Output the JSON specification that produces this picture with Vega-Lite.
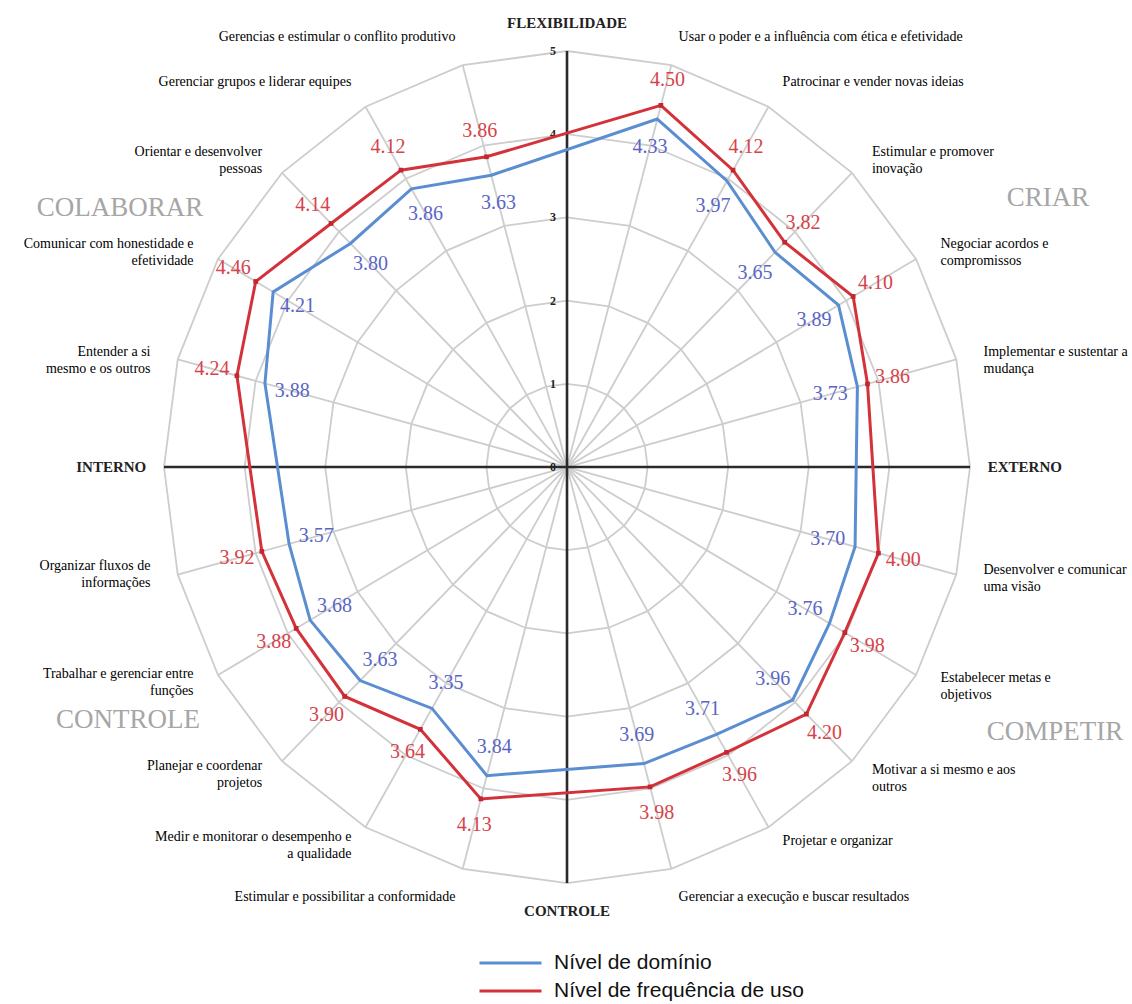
{
  "$schema": "https://vega.github.io/schema/vega-lite/v6.json",
  "width": 1132,
  "height": 1004,
  "padding": 0,
  "autosize": {"type": "none"},
  "background": "white",
  "config": {"view": {"stroke": null}},
  "datasets": {
    "comp": [
      {"k": 1, "label": "Usar o poder e a influência com ética e efetividade", "dominio": 4.33, "frequencia": 4.50},
      {"k": 2, "label": "Patrocinar e vender novas ideias", "dominio": 3.97, "frequencia": 4.12},
      {"k": 3, "label": "Estimular e promover\ninovação", "dominio": 3.65, "frequencia": 3.82},
      {"k": 4, "label": "Negociar acordos e\ncompromissos", "dominio": 3.89, "frequencia": 4.10},
      {"k": 5, "label": "Implementar e sustentar a\nmudança", "dominio": 3.73, "frequencia": 3.86},
      {"k": 7, "label": "Desenvolver e comunicar\numa visão", "dominio": 3.70, "frequencia": 4.00},
      {"k": 8, "label": "Estabelecer metas e\nobjetivos", "dominio": 3.76, "frequencia": 3.98},
      {"k": 9, "label": "Motivar a si mesmo e aos\noutros", "dominio": 3.96, "frequencia": 4.20},
      {"k": 10, "label": "Projetar e organizar", "dominio": 3.71, "frequencia": 3.96},
      {"k": 11, "label": "Gerenciar a execução e buscar resultados", "dominio": 3.69, "frequencia": 3.98},
      {"k": 13, "label": "Estimular e possibilitar a conformidade", "dominio": 3.84, "frequencia": 4.13},
      {"k": 14, "label": "Medir e monitorar o desempenho e\na qualidade", "dominio": 3.35, "frequencia": 3.64},
      {"k": 15, "label": "Planejar e coordenar\nprojetos", "dominio": 3.63, "frequencia": 3.90},
      {"k": 16, "label": "Trabalhar e gerenciar entre\nfunções", "dominio": 3.68, "frequencia": 3.88},
      {"k": 17, "label": "Organizar fluxos de\ninformações", "dominio": 3.57, "frequencia": 3.92},
      {"k": 19, "label": "Entender a si\nmesmo e os outros", "dominio": 3.88, "frequencia": 4.24},
      {"k": 20, "label": "Comunicar com honestidade e\nefetividade", "dominio": 4.21, "frequencia": 4.46},
      {"k": 21, "label": "Orientar e desenvolver\npessoas", "dominio": 3.80, "frequencia": 4.14},
      {"k": 22, "label": "Gerenciar grupos e liderar equipes", "dominio": 3.86, "frequencia": 4.12},
      {"k": 23, "label": "Gerencias e estimular o conflito produtivo", "dominio": 3.63, "frequencia": 3.86}
    ],
    "spokes": [
      {"k": 0, "r": [1, 2, 3, 4, 5]}, {"k": 1, "r": [1, 2, 3, 4, 5]}, {"k": 2, "r": [1, 2, 3, 4, 5]},
      {"k": 3, "r": [1, 2, 3, 4, 5]}, {"k": 4, "r": [1, 2, 3, 4, 5]}, {"k": 5, "r": [1, 2, 3, 4, 5]},
      {"k": 6, "r": [1, 2, 3, 4, 5]}, {"k": 7, "r": [1, 2, 3, 4, 5]}, {"k": 8, "r": [1, 2, 3, 4, 5]},
      {"k": 9, "r": [1, 2, 3, 4, 5]}, {"k": 10, "r": [1, 2, 3, 4, 5]}, {"k": 11, "r": [1, 2, 3, 4, 5]},
      {"k": 12, "r": [1, 2, 3, 4, 5]}, {"k": 13, "r": [1, 2, 3, 4, 5]}, {"k": 14, "r": [1, 2, 3, 4, 5]},
      {"k": 15, "r": [1, 2, 3, 4, 5]}, {"k": 16, "r": [1, 2, 3, 4, 5]}, {"k": 17, "r": [1, 2, 3, 4, 5]},
      {"k": 18, "r": [1, 2, 3, 4, 5]}, {"k": 19, "r": [1, 2, 3, 4, 5]}, {"k": 20, "r": [1, 2, 3, 4, 5]},
      {"k": 21, "r": [1, 2, 3, 4, 5]}, {"k": 22, "r": [1, 2, 3, 4, 5]}, {"k": 23, "r": [1, 2, 3, 4, 5]}
    ],
    "eixos": [
      {"k": 0, "nome": "FLEXIBILIDADE"},
      {"k": 6, "nome": "EXTERNO"},
      {"k": 12, "nome": "CONTROLE"},
      {"k": 18, "nome": "INTERNO"}
    ],
    "ticks": [{"t": 0}, {"t": 1}, {"t": 2}, {"t": 3}, {"t": 4}, {"t": 5}],
    "cantos": [{"nome": "COLABORAR"}, {"nome": "CRIAR"}, {"nome": "COMPETIR"}, {"nome": "CONTROLE"}]
  },
  "layer": [
    {
      "data": {"name": "spokes"},
      "transform": [
        {"flatten": ["r"]},
        {"calculate": "datum.r*sin(datum.k*PI/12)", "as": "px"},
        {"calculate": "datum.r*cos(datum.k*PI/12)", "as": "py"}
      ],
      "mark": {"type": "line", "interpolate": "linear-closed", "stroke": "#cdcdcd", "strokeWidth": 1.8},
      "encoding": {
        "x": {"field": "px", "type": "quantitative", "scale": {"domain": [-7.035, 7.010], "nice": false, "zero": false}, "axis": null},
        "y": {"field": "py", "type": "quantitative", "scale": {"domain": [-6.454, 5.613], "nice": false, "zero": false}, "axis": null},
        "detail": {"field": "r", "type": "nominal"},
        "order": {"field": "k", "type": "quantitative"}
      }
    },
    {
      "data": {"name": "spokes"},
      "transform": [
        {"calculate": "0", "as": "ox"},
        {"calculate": "5*sin(datum.k*PI/12)", "as": "ex"},
        {"calculate": "5*cos(datum.k*PI/12)", "as": "ey"}
      ],
      "mark": {"type": "rule", "stroke": "#cdcdcd", "strokeWidth": 1.8},
      "encoding": {
        "x": {"field": "ox", "type": "quantitative"},
        "y": {"field": "ox", "type": "quantitative"},
        "x2": {"field": "ex"},
        "y2": {"field": "ey"}
      }
    },
    {
      "data": {"name": "eixos"},
      "transform": [
        {"calculate": "0", "as": "ox"},
        {"calculate": "5*sin(datum.k*PI/12)", "as": "ex"},
        {"calculate": "5*cos(datum.k*PI/12)", "as": "ey"}
      ],
      "mark": {"type": "rule", "stroke": "#2a2a2a", "strokeWidth": 2.6},
      "encoding": {
        "x": {"field": "ox", "type": "quantitative"},
        "y": {"field": "ox", "type": "quantitative"},
        "x2": {"field": "ex"},
        "y2": {"field": "ey"}
      }
    },
    {
      "data": {"name": "ticks"},
      "transform": [{"calculate": "0", "as": "ox"}],
      "mark": {"type": "text", "font": "Liberation Serif", "fontWeight": "bold", "fontSize": 12, "color": "#222", "dx": -14, "align": "center", "baseline": "middle"},
      "encoding": {
        "x": {"field": "ox", "type": "quantitative"},
        "y": {"field": "t", "type": "quantitative"},
        "text": {"field": "t", "type": "quantitative"}
      }
    },
    {
      "data": {"name": "comp"},
      "transform": [
        {"fold": ["dominio", "frequencia"], "as": ["serie", "valor"]},
        {"calculate": "datum.valor*sin(datum.k*PI/12)", "as": "px"},
        {"calculate": "datum.valor*cos(datum.k*PI/12)", "as": "py"}
      ],
      "mark": {"type": "line", "interpolate": "linear-closed", "strokeWidth": 3},
      "encoding": {
        "x": {"field": "px", "type": "quantitative"},
        "y": {"field": "py", "type": "quantitative"},
        "order": {"field": "k", "type": "quantitative"},
        "color": {
          "field": "serie",
          "type": "nominal",
          "scale": {"domain": ["dominio", "frequencia"], "range": ["#5b8ed0", "#d4323a"]},
          "legend": {
            "orient": "none",
            "legendX": 478,
            "legendY": 949,
            "title": null,
            "symbolType": "stroke",
            "symbolSize": 3844,
            "symbolStrokeWidth": 3,
            "labelFont": "Liberation Sans",
            "labelFontSize": 21,
            "labelColor": "#111",
            "labelLimit": 600,
            "clipHeight": 28,
            "rowPadding": 0,
            "labelOffset": 11,
            "padding": 0,
            "labelExpr": "datum.value == 'dominio' ? 'Nível de domínio' : 'Nível de frequência de uso'"
          }
        }
      }
    },
    {
      "data": {"name": "comp"},
      "transform": [
        {"calculate": "datum.frequencia*sin(datum.k*PI/12)", "as": "px"},
        {"calculate": "datum.frequencia*cos(datum.k*PI/12)", "as": "py"}
      ],
      "mark": {"type": "point", "shape": "square", "filled": true, "size": 22, "color": "#c3262e", "opacity": 1},
      "encoding": {
        "x": {"field": "px", "type": "quantitative"},
        "y": {"field": "py", "type": "quantitative"}
      }
    },
    {
      "data": {"name": "comp"},
      "transform": [
        {"fold": ["dominio", "frequencia"], "as": ["serie", "valor"]},
        {"calculate": "datum.serie == 'dominio' ? datum.valor - 0.35 : datum.valor + 0.32", "as": "lr"},
        {"calculate": "datum.lr*sin(datum.k*PI/12)", "as": "px"},
        {"calculate": "datum.lr*cos(datum.k*PI/12)", "as": "py"}
      ],
      "mark": {"type": "text", "font": "Liberation Serif", "fontSize": 20, "align": "center", "baseline": "middle"},
      "encoding": {
        "x": {"field": "px", "type": "quantitative"},
        "y": {"field": "py", "type": "quantitative"},
        "text": {"field": "valor", "type": "quantitative", "format": ".2f"},
        "color": {"condition": {"test": "datum.serie == 'dominio'", "value": "#5a66c4"}, "value": "#d6434b"}
      }
    },
    {
      "data": {"name": "comp"},
      "transform": [
        {"filter": "datum.k < 6 || datum.k == 11"},
        {"calculate": "5.35*sin(datum.k*PI/12)", "as": "px"},
        {"calculate": "5.35*cos(datum.k*PI/12)", "as": "py"}
      ],
      "mark": {"type": "text", "font": "Liberation Serif", "fontSize": 14, "color": "#000", "align": "left", "baseline": "middle", "lineBreak": "\n", "lineHeight": 17},
      "encoding": {
        "x": {"field": "px", "type": "quantitative"},
        "y": {"field": "py", "type": "quantitative"},
        "text": {"field": "label", "type": "nominal"}
      }
    },
    {
      "data": {"name": "comp"},
      "transform": [
        {"filter": "datum.k > 6 && datum.k < 11"},
        {"calculate": "5.35*sin(datum.k*PI/12)", "as": "px"},
        {"calculate": "5.35*cos(datum.k*PI/12)", "as": "py"}
      ],
      "mark": {"type": "text", "font": "Liberation Serif", "fontSize": 14, "color": "#000", "align": "left", "baseline": "middle", "lineBreak": "\n", "lineHeight": 17, "dy": -12},
      "encoding": {
        "x": {"field": "px", "type": "quantitative"},
        "y": {"field": "py", "type": "quantitative"},
        "text": {"field": "label", "type": "nominal"}
      }
    },
    {
      "data": {"name": "comp"},
      "transform": [
        {"filter": "datum.k > 13 && datum.k < 18"},
        {"calculate": "5.35*sin(datum.k*PI/12)", "as": "px"},
        {"calculate": "5.35*cos(datum.k*PI/12)", "as": "py"}
      ],
      "mark": {"type": "text", "font": "Liberation Serif", "fontSize": 14, "color": "#000", "align": "right", "baseline": "middle", "lineBreak": "\n", "lineHeight": 17, "dy": -16},
      "encoding": {
        "x": {"field": "px", "type": "quantitative"},
        "y": {"field": "py", "type": "quantitative"},
        "text": {"field": "label", "type": "nominal"}
      }
    },
    {
      "data": {"name": "comp"},
      "transform": [
        {"filter": "datum.k > 18 || datum.k == 13"},
        {"calculate": "5.35*sin(datum.k*PI/12)", "as": "px"},
        {"calculate": "5.35*cos(datum.k*PI/12)", "as": "py"}
      ],
      "mark": {"type": "text", "font": "Liberation Serif", "fontSize": 14, "color": "#000", "align": "right", "baseline": "middle", "lineBreak": "\n", "lineHeight": 17},
      "encoding": {
        "x": {"field": "px", "type": "quantitative"},
        "y": {"field": "py", "type": "quantitative"},
        "text": {"field": "label", "type": "nominal"}
      }
    },
    {
      "data": {"name": "eixos"},
      "transform": [
        {"filter": "datum.k == 0 || datum.k == 12"},
        {"calculate": "0", "as": "ox"},
        {"calculate": "5.34*cos(datum.k*PI/12)", "as": "py"}
      ],
      "mark": {"type": "text", "font": "Liberation Serif", "fontWeight": "bold", "fontSize": 15, "color": "#222", "align": "center", "baseline": "middle"},
      "encoding": {
        "x": {"field": "ox", "type": "quantitative"},
        "y": {"field": "py", "type": "quantitative"},
        "text": {"field": "nome", "type": "nominal"}
      }
    },
    {
      "data": {"name": "eixos"},
      "transform": [
        {"filter": "datum.k == 6"},
        {"calculate": "0", "as": "oy"},
        {"calculate": "5.22*sin(datum.k*PI/12)", "as": "px"}
      ],
      "mark": {"type": "text", "font": "Liberation Serif", "fontWeight": "bold", "fontSize": 15, "color": "#222", "align": "left", "baseline": "middle"},
      "encoding": {
        "x": {"field": "px", "type": "quantitative"},
        "y": {"field": "oy", "type": "quantitative"},
        "text": {"field": "nome", "type": "nominal"}
      }
    },
    {
      "data": {"name": "eixos"},
      "transform": [
        {"filter": "datum.k == 18"},
        {"calculate": "0", "as": "oy"},
        {"calculate": "5.22*sin(datum.k*PI/12)", "as": "px"}
      ],
      "mark": {"type": "text", "font": "Liberation Serif", "fontWeight": "bold", "fontSize": 15, "color": "#222", "align": "right", "baseline": "middle"},
      "encoding": {
        "x": {"field": "px", "type": "quantitative"},
        "y": {"field": "oy", "type": "quantitative"},
        "text": {"field": "nome", "type": "nominal"}
      }
    },
    {
      "data": {"name": "cantos"},
      "transform": [{"filter": "datum.nome == 'COLABORAR'"}],
      "mark": {"type": "text", "font": "Liberation Serif", "fontSize": 27, "color": "#a6a6a6", "align": "center", "baseline": "middle"},
      "encoding": {"x": {"datum": -5.546, "type": "quantitative"}, "y": {"datum": 3.113, "type": "quantitative"}, "text": {"field": "nome", "type": "nominal"}}
    },
    {
      "data": {"name": "cantos"},
      "transform": [{"filter": "datum.nome == 'CRIAR'"}],
      "mark": {"type": "text", "font": "Liberation Serif", "fontSize": 27, "color": "#a6a6a6", "align": "center", "baseline": "middle"},
      "encoding": {"x": {"datum": 5.968, "type": "quantitative"}, "y": {"datum": 3.233, "type": "quantitative"}, "text": {"field": "nome", "type": "nominal"}}
    },
    {
      "data": {"name": "cantos"},
      "transform": [{"filter": "datum.nome == 'COMPETIR'"}],
      "mark": {"type": "text", "font": "Liberation Serif", "fontSize": 27, "color": "#a6a6a6", "align": "center", "baseline": "middle"},
      "encoding": {"x": {"datum": 6.055, "type": "quantitative"}, "y": {"datum": -3.185, "type": "quantitative"}, "text": {"field": "nome", "type": "nominal"}}
    },
    {
      "data": {"name": "cantos"},
      "transform": [{"filter": "datum.nome == 'CONTROLE'"}],
      "mark": {"type": "text", "font": "Liberation Serif", "fontSize": 27, "color": "#a6a6a6", "align": "center", "baseline": "middle"},
      "encoding": {"x": {"datum": -5.447, "type": "quantitative"}, "y": {"datum": -3.041, "type": "quantitative"}, "text": {"field": "nome", "type": "nominal"}}
    }
  ]
}
